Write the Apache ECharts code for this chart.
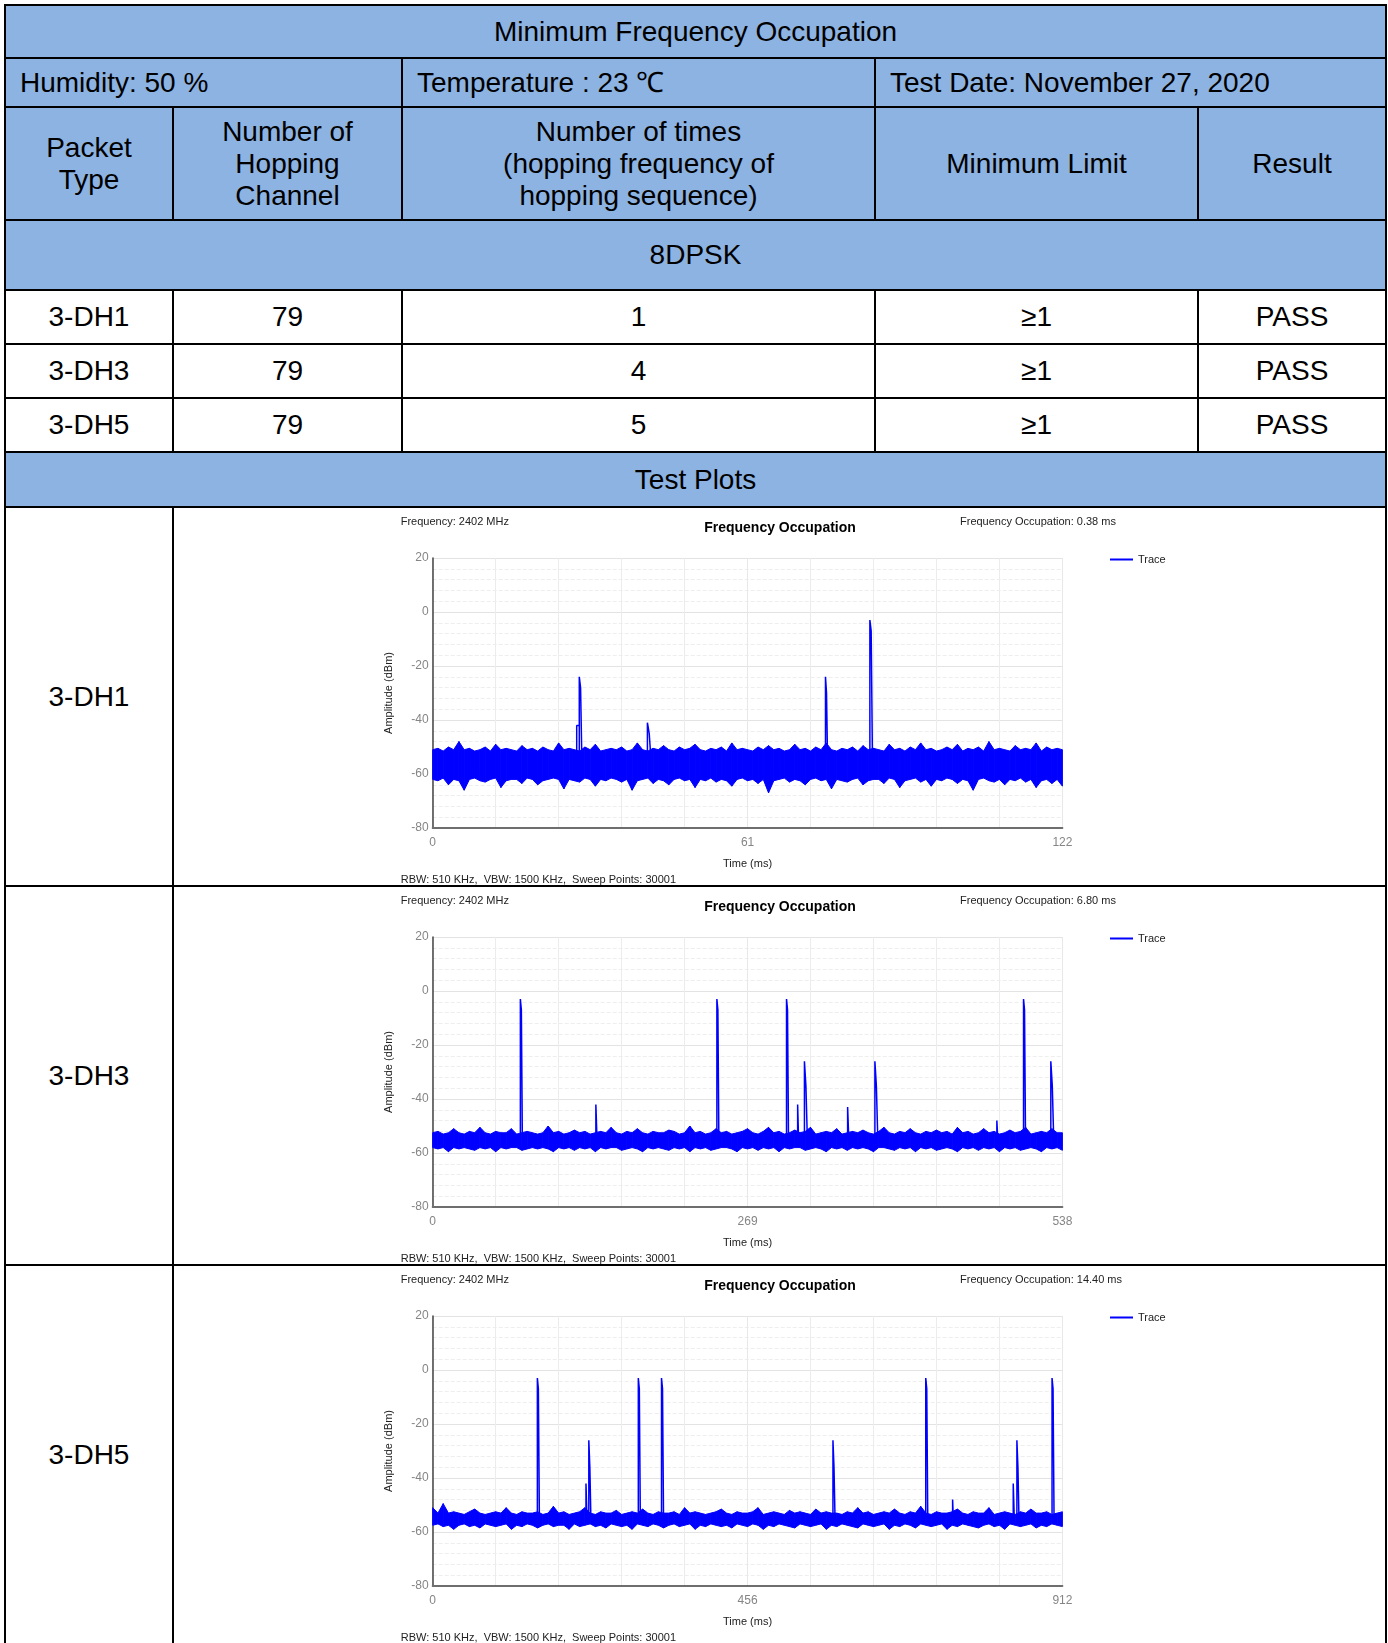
<!DOCTYPE html>
<html>
<head>
<meta charset="utf-8">
<script src="https://cdn.jsdelivr.net/npm/echarts@6/dist/echarts.min.js"></script>
<style>
html, body { margin: 0; padding: 0; background: #fff; width: 1388px; height: 1643px; overflow: hidden; }
table.report { position: absolute; left: 4px; top: 4px; border-collapse: collapse; table-layout: fixed; width: 1383px;
	font-family: Arial, "Liberation Sans", sans-serif; font-size: 28px; color: #000; }
table.report td { border: 2px solid #000; padding: 0; text-align: center; line-height: 32px; }
table.report td.hd { background: #8db3e2; }
table.report td.lft { text-align: left; padding-left: 14px; }
.plot { position: absolute; left: 174px; width: 1211px; height: 377px; }
</style>
</head>
<body>
<table class="report">
	<colgroup><col style="width:168px"><col style="width:229px"><col style="width:473px"><col style="width:323px"><col style="width:188px"></colgroup>
	<tr style="height:53px"><td class="hd" colspan="5">Minimum Frequency Occupation</td></tr>
	<tr style="height:49px"><td class="hd lft" colspan="2">Humidity: 50 %</td><td class="hd lft">Temperature : 23 ℃</td><td class="hd lft" colspan="2">Test Date: November 27, 2020</td></tr>
	<tr style="height:113px"><td class="hd">Packet<br>Type</td><td class="hd">Number of<br>Hopping<br>Channel</td><td class="hd">Number of times<br>(hopping frequency of<br>hopping sequence)</td><td class="hd">Minimum Limit</td><td class="hd">Result</td></tr>
	<tr style="height:70px"><td class="hd" colspan="5">8DPSK</td></tr>
	<tr style="height:54px"><td>3-DH1</td><td>79</td><td>1</td><td>≥1</td><td>PASS</td></tr>
	<tr style="height:54px"><td>3-DH3</td><td>79</td><td>4</td><td>≥1</td><td>PASS</td></tr>
	<tr style="height:54px"><td>3-DH5</td><td>79</td><td>5</td><td>≥1</td><td>PASS</td></tr>
	<tr style="height:55px"><td class="hd" colspan="5">Test Plots</td></tr>
	<tr style="height:379px"><td>3-DH1</td><td colspan="4"></td></tr>
	<tr style="height:379px"><td>3-DH3</td><td colspan="4"></td></tr>
	<tr style="height:379px"><td>3-DH5</td><td colspan="4"></td></tr>
</table>
<div class="plot" id="plot1" style="top:508px"></div>
<div class="plot" id="plot2" style="top:887px"></div>
<div class="plot" id="plot3" style="top:1266px"></div>

<script>
// 纵轴刻度 (dBm)
const yTicks = [-80, -60, -40, -20, 0, 20];
// 横轴刻度 (ms)
const timeTicks1 = [0, 61, 122];
const timeTicks2 = [0, 269, 538];
const timeTicks3 = [0, 456, 912];
const occupation = ['0.38 ms', '6.80 ms', '14.40 ms'];

// 噪声带上下包络 (dBm), 均匀采样 121 点
const hi1 = [-51,-50.5,-51.5,-50,-51,-48,-51,-50.5,-51.5,-51,
	-50,-51.5,-49,-51,-50.5,-51,-51.5,-49.5,-51,-50.5,
	-51.5,-50,-51,-51.5,-48.5,-51,-50.5,-51,-51.5,-50,
	-51,-49,-51.5,-51,-50.5,-51,-50,-51.5,-51,-48.5,
	-51,-51.5,-50.5,-51,-49.5,-51,-51.5,-50,-51,-50.5,
	-49,-51,-51.5,-50.5,-51,-50,-51.5,-48.5,-51,-50.5,
	-51,-51.5,-50,-51,-49.5,-51,-50.5,-51.5,-51,-49,
	-51,-50.5,-51.5,-50,-51,-48.5,-51,-51.5,-50.5,-51,
	-50,-51.5,-49.5,-51,-50.5,-51,-51.5,-49,-51,-50.5,
	-51.5,-50,-51,-48.5,-51,-50.5,-51.5,-51,-50,-51,
	-49,-51.5,-50.5,-51,-50,-51.5,-48,-51,-50.5,-51,
	-51.5,-49.5,-51,-50.5,-51,-48.5,-51.5,-50,-51,-50.5,
	-51];
const lo1 = [-62,-62.5,-61.5,-64,-62,-62.5,-66,-62,-61.5,-62.5,
	-63,-62,-61.5,-65,-62.5,-62,-62,-63.5,-61.5,-62,
	-64,-62.5,-62,-61.5,-62,-65.5,-62,-62.5,-63,-61.5,
	-62,-64.5,-62,-62.5,-61.5,-62,-63,-62,-66,-62.5,
	-62,-61.5,-63.5,-62,-62.5,-64,-62,-61.5,-62.5,-62,
	-65,-62,-62.5,-61.5,-63,-62,-62.5,-64.5,-62,-61.5,
	-62.5,-62,-63.5,-62,-67,-62.5,-62,-61.5,-63,-62,
	-62.5,-64,-62,-61.5,-62.5,-62,-65.5,-62,-62.5,-63,
	-62,-61.5,-64,-62.5,-62,-62,-63.5,-61.5,-62,-65,
	-62.5,-62,-61.5,-63,-62,-64.5,-62,-62.5,-61.5,-62,
	-63.5,-62,-62.5,-66,-62,-61.5,-62.5,-63,-62,-64,
	-62,-62.5,-61.5,-63,-62,-65,-62.5,-62,-63.5,-62,
	-64.5];
const hi2 = [-52.5,-52,-53,-52.5,-51,-52.5,-53,-52,-52.5,-50.5,
	-52.5,-53,-52,-52.5,-52.5,-51,-53,-52.5,-52,-52.5,
	-53,-52.5,-50,-52.5,-52,-53,-52.5,-51.5,-52.5,-52,
	-53,-52.5,-52,-52.5,-50.5,-52.5,-53,-52,-52.5,-51,
	-52.5,-53,-52,-52.5,-52.5,-51.5,-52,-53,-52.5,-50,
	-52.5,-52,-53,-52.5,-51,-52.5,-52,-53,-52.5,-52,
	-51,-52.5,-53,-52,-50.5,-52.5,-52,-53,-52.5,-51.5,
	-52.5,-52,-50.5,-53,-52.5,-52,-52.5,-51,-53,-52.5,
	-52,-52.5,-51.5,-52.5,-53,-52,-50.5,-52.5,-53,-52,
	-52.5,-51,-52.5,-53,-52,-52.5,-51.5,-52.5,-52,-53,
	-50.5,-52.5,-52,-53,-52.5,-51,-52.5,-52,-53,-52.5,
	-51.5,-52.5,-52,-50.5,-53,-52.5,-52,-52.5,-51,-52.5,
	-52.5];
const lo2 = [-58,-58.5,-58,-59.5,-58,-58.5,-58,-58.5,-59,-58,
	-58.5,-58,-59.5,-58,-58.5,-58,-58,-59,-58.5,-58,
	-58.5,-58,-58.5,-59.5,-58,-58.5,-58,-59,-58,-58.5,
	-58,-59.5,-58,-58.5,-58,-58,-59,-58.5,-58,-58.5,
	-59.5,-58,-58.5,-58,-58.5,-59,-58,-58.5,-58,-59.5,
	-58,-58.5,-58,-59,-58.5,-58,-58,-58.5,-59.5,-58,
	-58.5,-58,-59,-58,-58.5,-58,-59.5,-58,-58.5,-58,
	-58,-59,-58.5,-58,-58.5,-59.5,-58,-58.5,-58,-59,
	-58,-58.5,-58,-58.5,-59.5,-58,-58,-58.5,-59,-58,
	-58.5,-58,-59.5,-58,-58.5,-58,-59,-58.5,-58,-58.5,
	-59.5,-58,-58.5,-58,-59,-58,-58.5,-58,-59.5,-58,
	-58.5,-58,-59,-58.5,-58,-58.5,-59.5,-58,-58.5,-58,
	-59];
const hi3 = [-51,-53,-49.5,-53,-52.5,-53,-53.5,-52.5,-51.5,-53,
	-53.5,-53,-52.5,-53,-51,-53,-53.5,-52.5,-53,-53,
	-52.5,-53.5,-53,-50.5,-53,-52.5,-53.5,-53,-52.5,-51,
	-53,-53.5,-52.5,-53,-53,-52,-53.5,-53,-52.5,-53,
	-51.5,-53,-53.5,-52.5,-53,-53,-52.5,-53.5,-51,-53,
	-52.5,-53,-53.5,-53,-52.5,-51.5,-53,-53.5,-52.5,-53,
	-53,-52.5,-51,-53.5,-53,-52.5,-53,-53.5,-52,-53,
	-52.5,-53,-53.5,-51.5,-53,-52.5,-53,-53,-53.5,-52.5,
	-53,-51,-53,-52.5,-53.5,-53,-52.5,-53,-51.5,-53,
	-53.5,-52.5,-53,-50.5,-53,-53.5,-52.5,-53,-53,-52.5,
	-51.5,-53,-53.5,-52.5,-53,-53,-51,-53.5,-53,-52.5,
	-53,-53.5,-52.5,-53,-51.5,-53,-53,-52.5,-53.5,-53,
	-52.5];
const lo3 = [-57.5,-57,-58,-57.5,-59,-57.5,-57,-58,-57.5,-58.5,
	-57,-57.5,-58,-57.5,-57,-59,-57.5,-58,-57,-57.5,
	-58.5,-57.5,-57,-58,-57.5,-57.5,-59,-57,-58,-57.5,
	-57,-58,-57.5,-58.5,-57,-57.5,-58,-57.5,-59,-57,
	-57.5,-58,-57,-57.5,-58.5,-57.5,-57,-58,-57.5,-57,
	-59,-57.5,-58,-57,-57.5,-58,-57.5,-58.5,-57,-57.5,
	-58,-57,-57.5,-59,-57.5,-58,-57,-57.5,-58,-58.5,
	-57,-57.5,-58,-57.5,-57,-59,-57.5,-58,-57,-57.5,
	-58,-58.5,-57,-57.5,-58,-57.5,-57,-59,-57.5,-58,
	-57,-57.5,-58.5,-57,-57.5,-58,-57.5,-57,-59,-57.5,
	-58,-57,-57.5,-58,-58.5,-57.5,-57,-58,-57.5,-59,
	-57,-57.5,-58,-57.5,-57,-58.5,-57.5,-58,-57,-57.5,
	-58];

// 跳频脉冲: [起始时间 ms, 持续 ms, 峰值 dBm, 尾部 dBm]
const bursts1 = [[27.9, 0.5, -42, -42], [28.4, 0.5, -24, -28], [41.6, 0.7, -41, -45], [76.1, 0.4, -24, -30], [84.7, 0.5, -3, -7]];
const bursts2 = [[74.9, 1.7, -3, -7], [139.4, 1.0, -42, -42], [242.8, 1.7, -3, -7], [302.3, 1.7, -3, -7], [311.8, 0.8, -42, -42],
	[317.6, 2.5, -26, -35], [354.5, 1.0, -43, -43], [377.8, 2.5, -26, -35], [482, 0.8, -48, -48], [504.8, 1.7, -3, -7], [528.1, 2.5, -26, -35]];
const bursts3 = [[151.6, 2.9, -3, -7], [222, 1.5, -42, -42], [226.1, 3, -26, -36], [297.8, 2.9, -3, -7], [331.4, 2.9, -3, -7],
	[579.7, 3, -26, -36], [714.1, 2.9, -3, -7], [753, 1, -48, -48], [840.8, 1.5, -42, -42], [846.1, 3, -26, -36], [897, 2.9, -3, -7]];

const BLUE = '#0000ff';
const FONT = 'Arial, "Liberation Sans", sans-serif';
const FLOOR = -55;

// 噪声带: 每段一个四边形
const renderBand = (params, api) => {
	const a = api.coord([api.value(0), api.value(1)]);
	const b = api.coord([api.value(3), api.value(4)]);
	const c = api.coord([api.value(3), api.value(5)]);
	const d = api.coord([api.value(0), api.value(2)]);
	return {
		type: 'polygon',
		shape: { points: [a, b, c, d] },
		style: { fill: BLUE, stroke: BLUE, lineWidth: 1 },
	};
};

const initPlot = (el, hi, lo, bursts, ticks, occ) => {
	const myChart = echarts.init(el);
	const tMax = ticks[ticks.length - 1];
	const step = tMax / (hi.length - 1);
	const bandData = [];
	for (let i = 0; i < hi.length - 1; i++) {
		bandData.push([i * step, hi[i], lo[i], (i + 1) * step, hi[i + 1], lo[i + 1]]);
	}
	const spikePts = [];
	bursts.forEach(([t, d, peak, tail]) => {
		const m = t + d / 2;
		spikePts.push([t, FLOOR], [t, peak], [m, peak], [m, tail], [t + d, tail], [t + d, FLOOR], [t + d, '-']);
	});
	const txt = (x, y, text, extra) => ({
		type: 'text', x, y, silent: true,
		style: Object.assign({ text, fontSize: 11, fontFamily: FONT, fill: '#222', textVerticalAlign: 'middle' }, extra || {}),
	});
	const option = {
		animation: false,
		grid: { left: 258.7, top: 50, width: 629.7, height: 270 },
		legend: {
			data: ['Trace'], left: 931, top: 41, icon: 'rect', itemWidth: 23, itemHeight: 2,
			textStyle: { fontSize: 11, color: '#222', fontFamily: FONT },
		},
		graphic: [
			txt(226.7, 14, 'Frequency: 2402 MHz'),
			txt(606, 20, 'Frequency Occupation', { fontSize: 14, fontWeight: 'bold', fill: '#000', textAlign: 'center' }),
			txt(786, 14, 'Frequency Occupation: ' + occ),
			txt(226.7, 372, 'RBW: 510 KHz,  VBW: 1500 KHz,  Sweep Points: 30001'),
		],
		xAxis: {
			type: 'value', min: ticks[0], max: tMax, interval: ticks[1] - ticks[0],
			name: 'Time (ms)', nameLocation: 'middle', nameGap: 30,
			nameTextStyle: { color: '#222', fontSize: 11, fontFamily: FONT },
			axisLine: { show: true, onZero: false, lineStyle: { color: '#6e6e6e', width: 2 } },
			axisTick: { show: false },
			axisLabel: { color: '#858585', fontSize: 12, fontFamily: FONT, margin: 9 },
			splitLine: { show: true, lineStyle: { color: '#e8e8e8' } },
			minorTick: { show: false, splitNumber: 5 },
			minorSplitLine: { show: true, lineStyle: { color: '#ececec' } },
		},
		yAxis: {
			type: 'value', min: yTicks[0], max: yTicks[yTicks.length - 1], interval: yTicks[1] - yTicks[0],
			name: 'Amplitude (dBm)', nameLocation: 'middle', nameGap: 38, nameRotate: 90,
			nameTextStyle: { color: '#222', fontSize: 11, fontFamily: FONT },
			axisLine: { show: true, onZero: false, lineStyle: { color: '#444', width: 1.5 } },
			axisTick: { show: false },
			axisLabel: { color: '#858585', fontSize: 12, fontFamily: FONT, margin: 4 },
			splitLine: { show: true, lineStyle: { color: '#e3e3e3' } },
			minorTick: { show: false, splitNumber: 5 },
			minorSplitLine: { show: true, lineStyle: { color: '#eeeeee', type: 'dashed' } },
		},
		series: [
			{ type: 'custom', data: bandData, renderItem: renderBand, silent: true, encode: { x: [0, 3], y: [1, 2, 4, 5] } },
			{ name: 'Trace', type: 'line', data: spikePts, symbol: 'none', connectNulls: false, color: BLUE, lineStyle: { color: BLUE, width: 1.5 } },
		],
	};
	myChart.setOption(option);
	return myChart;
};

initPlot(document.getElementById('plot1'), hi1, lo1, bursts1, timeTicks1, occupation[0]);
initPlot(document.getElementById('plot2'), hi2, lo2, bursts2, timeTicks2, occupation[1]);
initPlot(document.getElementById('plot3'), hi3, lo3, bursts3, timeTicks3, occupation[2]);
</script>
</body>
</html>
